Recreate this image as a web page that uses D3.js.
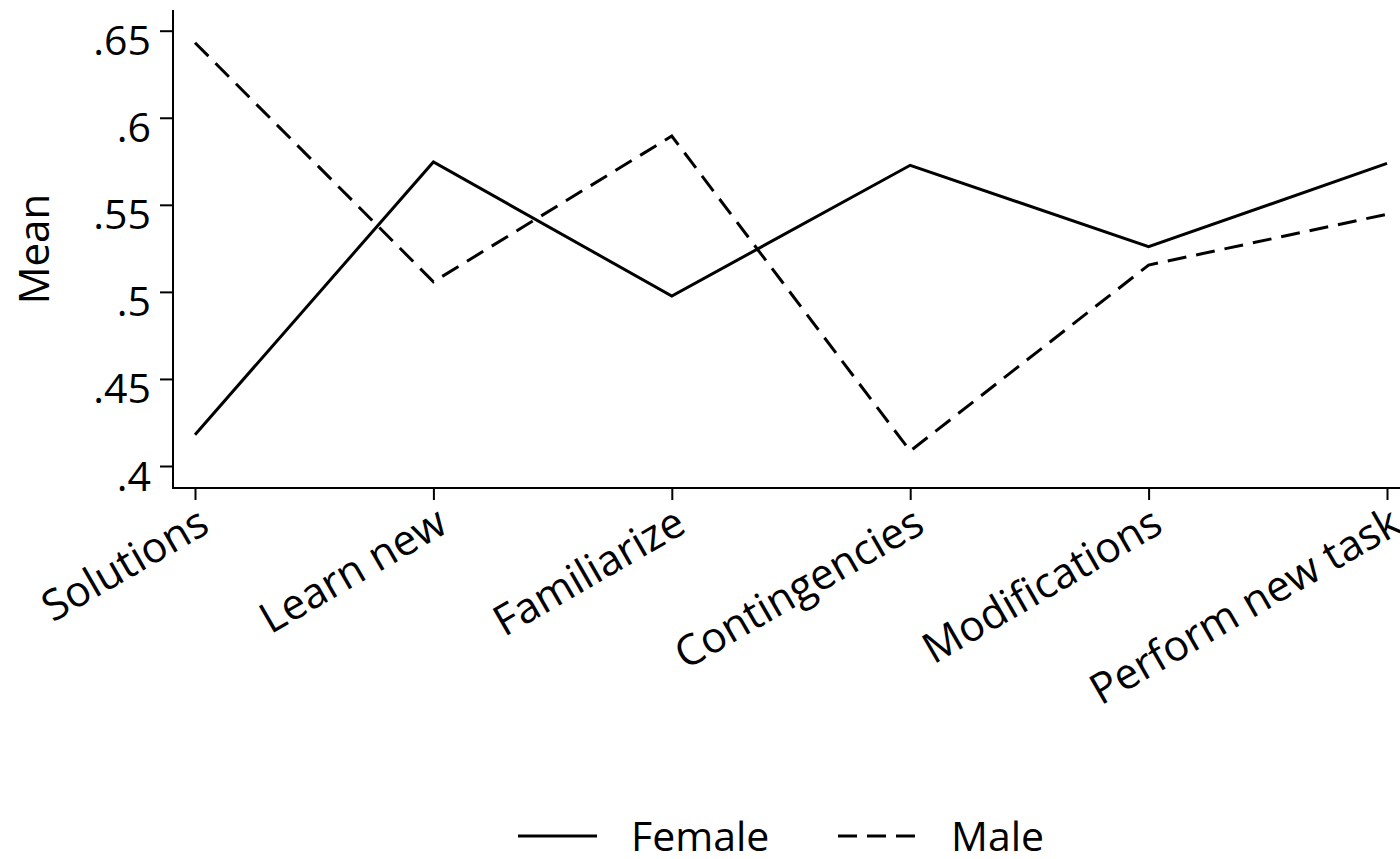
<!DOCTYPE html>
<html>
<head>
<meta charset="utf-8">
<script src="https://cdn.jsdelivr.net/npm/d3@7"></script>
<style>
    body { margin: 0; background: #fff; }
    text { font-family: "Open Sans", sans-serif; fill: #000; }
</style>
</head>
<body>
<script>
const categories = ["Solutions", "Learn new", "Familiarize", "Contingencies", "Modifications", "Perform new task"];

const female = [0.418, 0.5746, 0.4976, 0.5727, 0.5259, 0.5738];
const male   = [0.6431, 0.5058, 0.5895, 0.4086, 0.5154, 0.5446];

const yTicks = [0.4, 0.45, 0.5, 0.55, 0.6, 0.65];
const yTickLabels = [".4", ".45", ".5", ".55", ".6", ".65"];

const seriesNames = ["Female", "Male"];

const width = 1400, height = 859;
const fontSize = 40;

// plot region (axis lines run a bit past the data range, like Stata)
const plot = {left: 173, right: 1400, top: 10, bottom: 488};

const x = d3.scalePoint()
    .domain(categories)
    .range([195, 1387]);

const y = d3.scaleLinear()
    .domain([0.4, 0.65])
    .range([466, 30.7]);

const dash = {Female: null, Male: "19,10"};

const svg = d3.select("body").append("svg")
    .attr("width", width)
    .attr("height", height);

// axis lines
svg.append("line")
    .attr("x1", plot.left).attr("x2", plot.left)
    .attr("y1", plot.top).attr("y2", plot.bottom)
    .style("stroke", "#000").style("stroke-width", 2);

svg.append("line")
    .attr("x1", plot.left - 1).attr("x2", plot.right)
    .attr("y1", plot.bottom).attr("y2", plot.bottom)
    .style("stroke", "#000").style("stroke-width", 2);

// y axis
const yAxis = svg.append("g")
    .attr("transform", "translate(" + plot.left + ",0)")
    .call(d3.axisLeft(y)
        .tickValues(yTicks)
        .tickFormat((d, i) => yTickLabels[i])
        .tickSize(13)
        .tickPadding(9));

yAxis.select(".domain").remove();
yAxis.selectAll(".tick line").style("stroke", "#000").style("stroke-width", 2);
yAxis.selectAll(".tick text")
    .attr("dy", 24)
    .style("font-size", (fontSize + 1) + "px")
    .style("font-family", "'Open Sans', sans-serif");

// x axis
const xAxis = svg.append("g")
    .attr("transform", "translate(0," + plot.bottom + ")")
    .call(d3.axisBottom(x).tickSize(12));

xAxis.select(".domain").remove();
xAxis.selectAll(".tick line").style("stroke", "#000").style("stroke-width", 2);
xAxis.selectAll(".tick text")
    .attr("y", 0)
    .attr("dy", 0)
    .attr("transform", "translate(16,43) rotate(-30)")
    .style("text-anchor", "end")
    .style("font-size", (fontSize + 2.5) + "px")
    .style("font-family", "'Open Sans', sans-serif");

// y title
svg.append("text")
    .attr("transform", "translate(49," + (plot.top + plot.bottom) / 2 + ") rotate(-90)")
    .style("text-anchor", "middle")
    .style("font-size", (fontSize + 2) + "px")
    .text("Mean");

// series lines
const line = d3.line()
    .x((d, i) => x(categories[i]))
    .y(d => y(d));

svg.selectAll(".series")
    .data([female, male])
    .enter().append("path")
    .attr("class", "series")
    .attr("d", line)
    .style("fill", "none")
    .style("stroke", "#000")
    .style("stroke-width", 3)
    .style("stroke-dasharray", (d, i) => dash[seriesNames[i]]);

// legend
const legendX = [518, 838];
const legend = svg.selectAll(".legend")
    .data(seriesNames)
    .enter().append("g")
    .attr("class", "legend")
    .attr("transform", (d, i) => "translate(" + legendX[i] + ",0)");

legend.append("line")
    .attr("x1", 0).attr("x2", 79)
    .attr("y1", 836).attr("y2", 836)
    .style("stroke", "#000")
    .style("stroke-width", 3)
    .style("stroke-dasharray", d => dash[d]);

legend.append("text")
    .attr("x", 113)
    .attr("y", 851)
    .style("font-size", (fontSize + 1) + "px")
    .text(d => d);
</script>
</body>
</html>
